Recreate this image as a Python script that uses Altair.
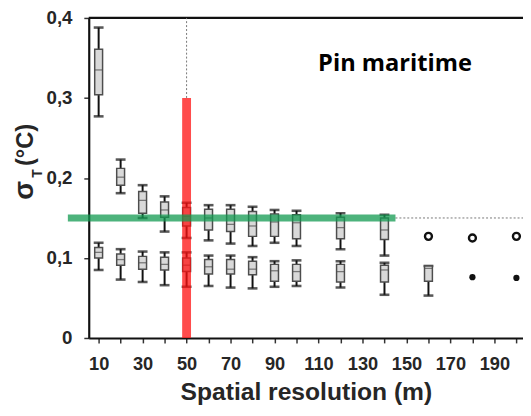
import altair as alt
import pandas as pd

# ---------------- data ----------------
res_up = [10, 20, 30, 40, 50, 60, 70, 80, 90, 100, 120, 140]
up_wmax = [0.388, 0.223, 0.191, 0.177, 0.169, 0.166, 0.166, 0.164, 0.160, 0.159, 0.156, 0.154]
up_q3 = [0.361, 0.212, 0.183, 0.170, 0.163, 0.161, 0.161, 0.158, 0.155, 0.154, 0.151, 0.150]
up_med = [0.335, 0.201, 0.172, 0.160, 0.152, 0.150, 0.142, 0.140, 0.145, 0.144, 0.138, 0.135]
up_q1 = [0.304, 0.191, 0.156, 0.151, 0.140, 0.135, 0.133, 0.127, 0.127, 0.124, 0.124, 0.123]
up_wmin = [0.277, 0.181, 0.150, 0.133, 0.125, 0.122, 0.118, 0.115, 0.119, 0.115, 0.111, 0.103]

res_lo = [10, 20, 30, 40, 50, 60, 70, 80, 90, 100, 120, 140, 160]
lo_wmax = [0.119, 0.111, 0.108, 0.107, 0.107, 0.103, 0.103, 0.101, 0.096, 0.097, 0.096, 0.094, 0.090]
lo_q3 = [0.113, 0.105, 0.102, 0.101, 0.100, 0.098, 0.098, 0.096, 0.092, 0.092, 0.092, 0.091, 0.090]
lo_med = [0.107, 0.098, 0.094, 0.092, 0.091, 0.089, 0.086, 0.086, 0.084, 0.083, 0.083, 0.085, 0.087]
lo_q1 = [0.100, 0.091, 0.086, 0.085, 0.083, 0.080, 0.080, 0.079, 0.071, 0.071, 0.070, 0.070, 0.071]
lo_wmin = [0.085, 0.073, 0.070, 0.066, 0.064, 0.065, 0.063, 0.062, 0.064, 0.065, 0.063, 0.054, 0.053]

open_res = [160, 180, 200]
open_val = [0.127, 0.125, 0.127]
dot_res = [180, 200]
dot_val = [0.076, 0.075]

x_ticks = list(range(10, 210, 10))
y_ticks = [0, 0.1, 0.2, 0.3, 0.4]
x_domain = [5.5, 203]
y_domain = [0, 0.4]

red_res = [50]
red_lo, red_hi = [0.0], [0.3]
green_val = [0.15]
green_from, green_to = [-4], [145]

panel_label = ["Pin maritime"]
x_title = "Spatial resolution (m)"
y_title_parts = ["σ", "T", "(°C)"]

# ---------------- tables ----------------
rows = []
for xs_, a, b, c, d, e in [(res_up, up_wmin, up_q1, up_med, up_q3, up_wmax),
                           (res_lo, lo_wmin, lo_q1, lo_med, lo_q3, lo_wmax)]:
    for i, r in enumerate(xs_):
        rows.append({"res": r, "wmin": a[i], "q1": b[i], "med": c[i], "q3": d[i], "wmax": e[i]})
box_df = pd.DataFrame(rows)

open_df = pd.DataFrame({"res": open_res, "v": open_val})
dot_df = pd.DataFrame({"res": dot_res, "v": dot_val})
red_df = pd.DataFrame({"res": red_res, "lo": red_lo, "hi": red_hi})
redv_df = pd.DataFrame({"res": red_res, "lo": red_hi, "hi": [y_domain[1]]})
green_df = pd.DataFrame({"res": green_from, "b": green_to, "v": green_val})
greenh_df = pd.DataFrame({"res": green_to, "b": [x_domain[1]], "v": green_val})
top_df = pd.DataFrame({"res": [x_domain[0]], "b": [x_domain[1]], "v": [y_domain[1]]})

FONT = "Liberation Sans"
DARK = "#262626"

xs = alt.Scale(domain=x_domain, nice=False, zero=False, padding=0)
ys = alt.Scale(domain=y_domain, nice=False, zero=True, padding=0)

x_axis = alt.Axis(values=x_ticks,
                  labelExpr="(datum.value / 10) % 2 == 1 ? datum.label : ''",
                  title=x_title, titleFont=FONT, titleFontSize=25, titleFontWeight="bold",
                  titleColor=DARK, titlePadding=7,
                  labelFont=FONT, labelFontSize=18.5, labelFontWeight="bold", labelColor=DARK,
                  labelPadding=12, labelFlush=False, labelOverlap=False,
                  domainColor="#111111", domainWidth=2.2,
                  tickColor="#333333", tickSize=5, tickWidth=1.5, grid=False)
y_axis = alt.Axis(values=y_ticks,
                  labelExpr="datum.value == 0 ? '0' : replace(format(datum.value, '.1f'), '.', ',')",
                  title=None,
                  labelFont=FONT, labelFontSize=19, labelFontWeight="bold", labelColor=DARK,
                  labelPadding=12, labelFlush=False, labelOverlap=False,
                  domainColor="#111111", domainWidth=2.2,
                  tickColor="#333333", tickSize=5, tickWidth=1.5, grid=False)


def X(field):
    return alt.X(field, type="quantitative", scale=xs, axis=x_axis, title=x_title)


def Y(field):
    return alt.Y(field, type="quantitative", scale=ys, axis=y_axis, title=None)


base = alt.Chart(box_df)

whiskers = base.mark_rule(color="#111111", strokeWidth=2).encode(
    x=X("res"), y=Y("wmin"), y2="wmax:Q")
cap_lo = base.mark_tick(orient="horizontal", size=10, thickness=2.6, color="#111111").encode(
    x=X("res"), y=Y("wmin"))
cap_hi = base.mark_tick(orient="horizontal", size=10, thickness=2.6, color="#111111").encode(
    x=X("res"), y=Y("wmax"))
boxes = base.mark_bar(size=8, fill="#d9d9d9", stroke="#4d4d4d", strokeWidth=1.5).encode(
    x=X("res"), y=Y("q1"), y2="q3:Q")
medians = base.mark_tick(orient="horizontal", size=8, thickness=1.3, color="#4d4d4d").encode(
    x=X("res"), y=Y("med"))

opens = alt.Chart(open_df).mark_point(shape="circle", size=50, filled=False, stroke="#111111",
                                     strokeWidth=2.4, opacity=1).encode(x=X("res"), y=Y("v"))
dots = alt.Chart(dot_df).mark_circle(size=40, color="#111111", opacity=1).encode(x=X("res"), y=Y("v"))

top_line = alt.Chart(top_df).mark_rule(color="#111111", strokeWidth=2.2).encode(
    x=X("res"), x2="b:Q", y=Y("v"))

red_bar = alt.Chart(red_df).mark_rule(color="#ff1010", strokeWidth=9, opacity=0.75, strokeCap="butt").encode(
    x=X("res"), y=Y("lo"), y2="hi:Q")
red_dot = alt.Chart(redv_df).mark_rule(color="#777777", strokeWidth=1, strokeDash=[2, 2]).encode(
    x=X("res"), y=Y("lo"), y2="hi:Q")
green_bar = alt.Chart(green_df).mark_rule(color="#119a50", strokeWidth=7, opacity=0.75, strokeCap="butt").encode(
    x=X("res"), x2="b:Q", y=Y("v"))
green_dot = alt.Chart(greenh_df).mark_rule(color="#777777", strokeWidth=1, strokeDash=[2, 2]).encode(
    x=X("res"), x2="b:Q", y=Y("v"))

label_df = pd.DataFrame({"t": panel_label})
panel_text = alt.Chart(label_df).mark_text(font="Open Sans", fontSize=24, fontWeight="bold",
                                           color="#000000", align="center", baseline="middle").encode(
    text="t:N", x=alt.value(311), y=alt.value(47))

sig_df = pd.DataFrame({"t": [y_title_parts[0]]})
sub_df = pd.DataFrame({"t": [y_title_parts[1]]})
unit_df = pd.DataFrame({"t": [y_title_parts[2]]})
sig_text = alt.Chart(sig_df).mark_text(font=FONT, fontSize=28, fontWeight="bold", color=DARK,
                                       angle=270, align="center", baseline="alphabetic").encode(
    text="t:N", x=alt.value(-57), y=alt.value(175))
sub_text = alt.Chart(sub_df).mark_text(font=FONT, fontSize=14, fontWeight="bold", color=DARK,
                                       angle=270, align="center", baseline="alphabetic").encode(
    text="t:N", x=alt.value(-47), y=alt.value(158))
unit_text = alt.Chart(unit_df).mark_text(font=FONT, fontSize=24, fontWeight="bold", color=DARK,
                                         angle=270, align="center", baseline="alphabetic").encode(
    text="t:N", x=alt.value(-57), y=alt.value(129))

chart = alt.layer(
    whiskers, cap_lo, cap_hi, boxes, medians, opens, dots, top_line,
    red_dot, red_bar, green_dot, green_bar, panel_text, sig_text, sub_text, unit_text
).properties(
    width=441, height=325,
    padding={"left": 82, "top": 7, "right": 0, "bottom": 68},
    autosize=alt.AutoSizeParams(type="none"),
).configure_view(stroke=None)

chart.save("out.html", embed_options={"renderer": "svg", "actions": False})
